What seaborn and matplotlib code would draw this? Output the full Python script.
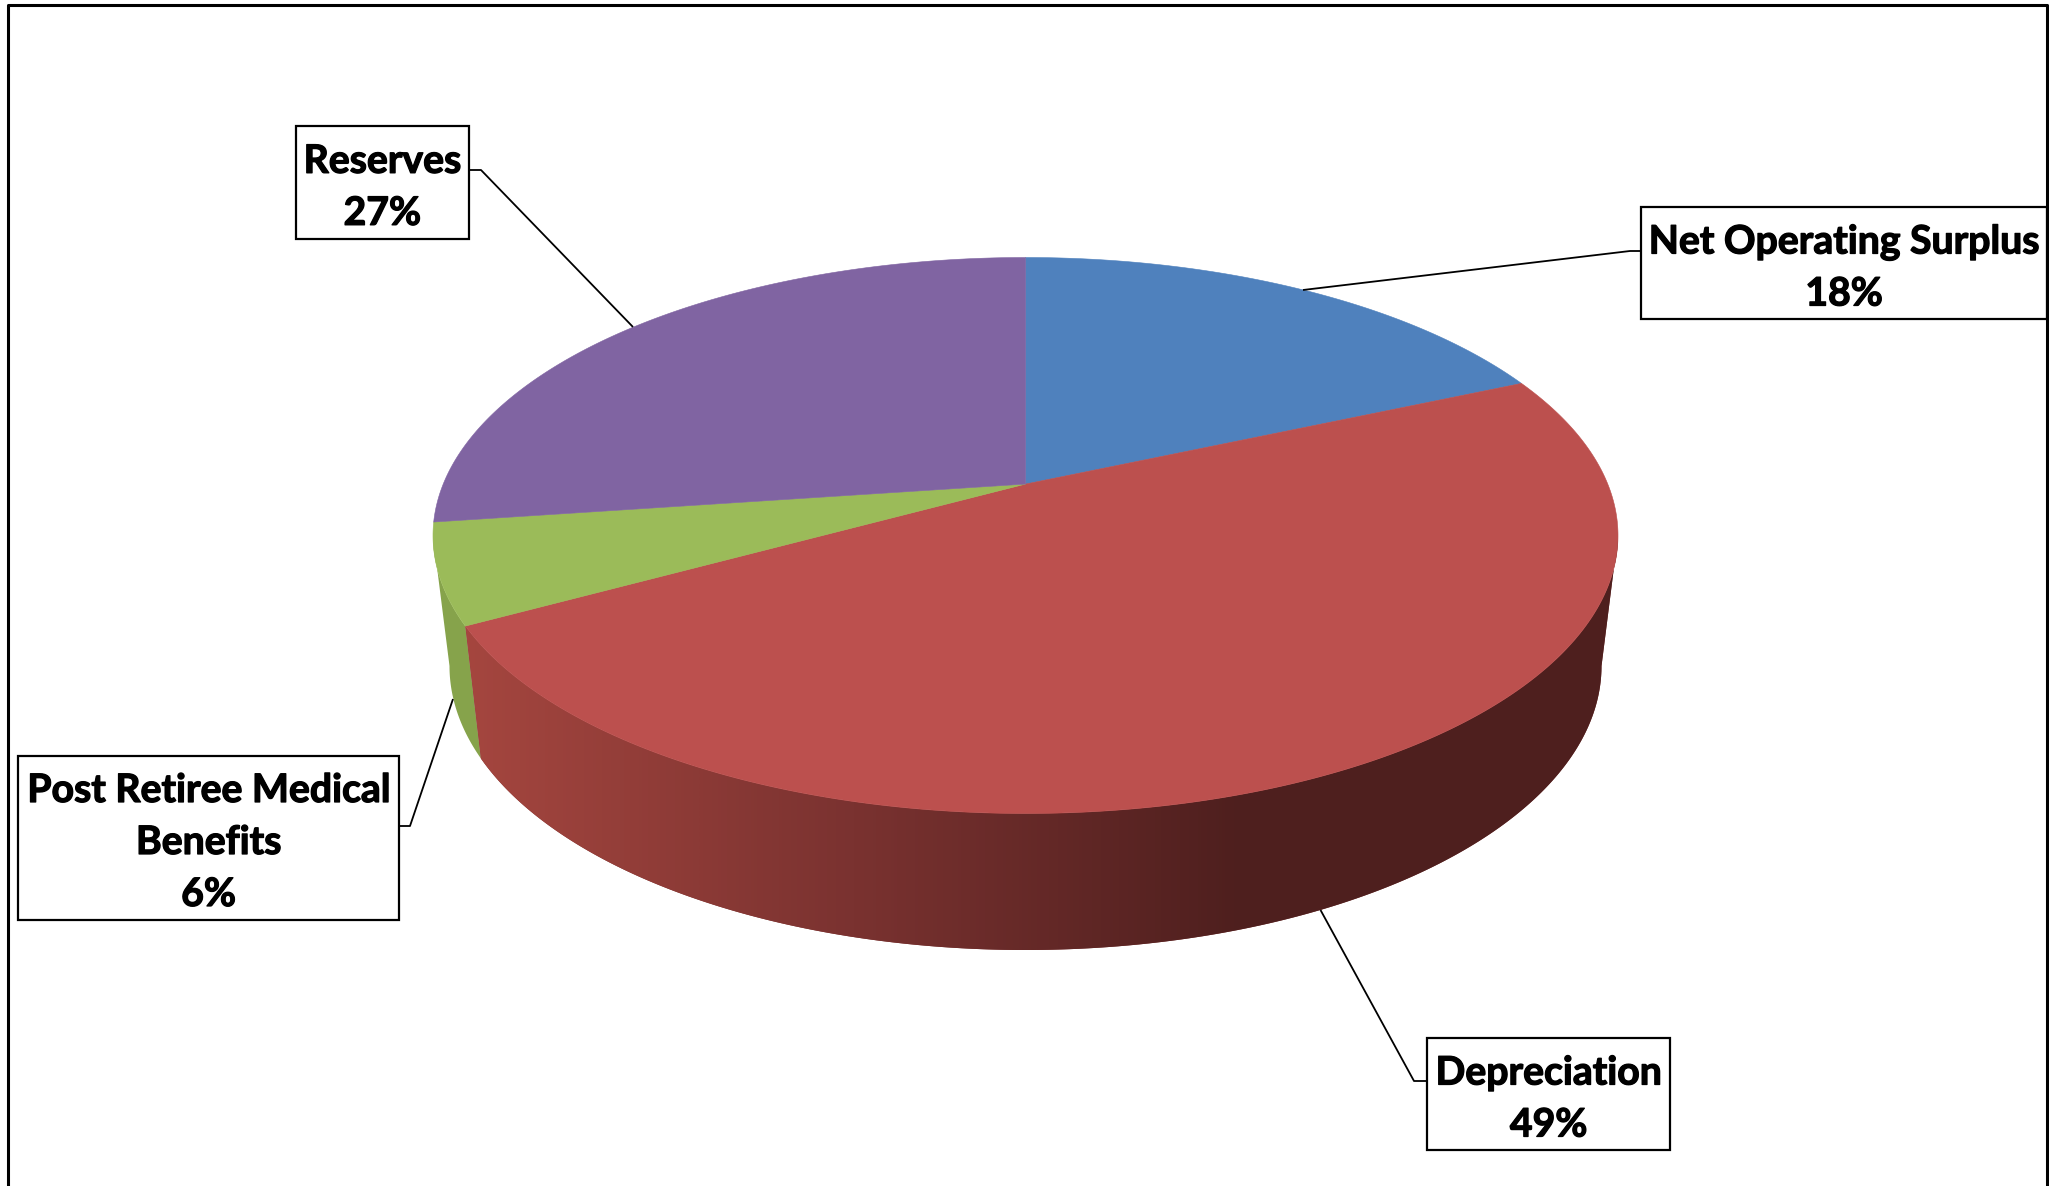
import numpy as np
import pandas as pd
import seaborn as sns
import matplotlib
matplotlib.use("Agg")
import matplotlib.pyplot as plt
import matplotlib.patheffects as pe
from matplotlib.patches import Polygon

# ---- data ----
categories = ["Net Operating Surplus", "Depreciation", "Post Retiree Medical\nBenefits", "Reserves"]
percents = [18.4, 48.6, 5.8, 27.2]      # estimated from the slice edges
labels = ["18%", "49%", "6%", "27%"]
colors = ["#4F81BD", "#BC504E", "#9BBB59", "#8064A2"]

df = pd.DataFrame({"category": categories, "percent": percents, "label": labels})

# ---- layout (pixels of the 2049x1186 picture) ----
CX, CY, A, B = 1025.5, 535.5, 592.5, 278.0      # top rim ellipse
A2, B2, CY2 = 576.0, 284.0, 666.0               # bottom rim ellipse
K = 0.185                                       # perspective shift of the apex
FONT_PT = 28.2
LINE_PX = 52
TEXT_DY = 2
boxes = {  # x0, x1, y0, y1
    categories[0]: (1641, 2047, 207, 319),
    categories[1]: (1427, 1670, 1038, 1150),
    categories[2]: (18, 399, 755.5, 919.5),
    categories[3]: (295.5, 469, 126, 238.7),
}
leaders = {
    categories[0]: [(1641, 251), (1630, 251), (1303, 290)],
    categories[1]: [(1427, 1081), (1414, 1081), (1320.5, 910)],
    categories[2]: [(399, 826), (410, 826), (453, 699)],
    categories[3]: [(469, 170), (481, 170), (633, 327)],
}

sns.set_theme(style="white")
plt.rcParams["font.family"] = ["Lato", "DejaVu Sans"]
palette = sns.color_palette(colors)
side_cmap = sns.blend_palette(["#A5463F", "#7A3230", "#4E1F1E"], as_cmap=True)


def project(theta):
    """Circle angle (deg, counter-clockwise) -> normalised ellipse coords with the apex shifted."""
    t = np.radians(theta)
    x, y = np.cos(t), np.sin(t)
    d = 1 + K * y
    return x * np.sqrt(1 - K ** 2) / d, (y + K) / d


def top_xy(nx, ny):
    return CX + A * nx, CY - B * ny


fig = plt.figure(figsize=(20.49, 11.86), dpi=100, facecolor="white")
ax = fig.add_axes([0, 0, 1, 1])
ax.set_axis_off()

# slice edges, clockwise from 12 o'clock
edges = 90 - 3.6 * np.concatenate([[0], np.cumsum(df["percent"].to_numpy())])
corner_nx, corner_ny = project(edges[2])
phi_corner = np.arctan2(corner_ny, corner_nx)  # negative, lower-left

# side wall of the red slice (gradient) and of the green slice
phi_red = np.linspace(phi_corner, 0, 300)
red_side = np.vstack([
    np.column_stack([CX + A * np.cos(phi_red), CY - B * np.sin(phi_red)]),
    np.column_stack([CX + A2 * np.cos(phi_red[::-1]), CY2 - B2 * np.sin(phi_red[::-1])]),
])
phi_green = np.linspace(-np.pi, phi_corner, 60)
green_side = np.vstack([
    np.column_stack([CX + A * np.cos(phi_green), CY - B * np.sin(phi_green)]),
    np.column_stack([CX + A2 * np.cos(phi_green[::-1]), CY2 - B2 * np.sin(phi_green[::-1])]),
])
ax.fill(green_side[:, 0], green_side[:, 1], color="#86A34B", lw=0, zorder=1)

clip = Polygon(red_side, closed=True, transform=ax.transData, fc="#7A3230", ec="none", zorder=1)
ax.add_patch(clip)
shade = np.linspace(0, 1, 256)[None, :]
im = ax.imshow(shade, cmap=side_cmap, extent=(464, 1245, 960, 520), aspect="auto", zorder=2,
               interpolation="bilinear")
im.set_clip_path(clip)
tail = ax.fill([1245, 1630, 1630, 1245], [520, 520, 960, 960], color="#4E1F1E", lw=0, zorder=2)[0]
tail.set_clip_path(clip)

# top faces
for i, row in df.iterrows():
    th = np.linspace(edges[i], edges[i + 1], 400)
    nx, ny = project(th)
    px, py = top_xy(nx, ny)
    ax_, ay_ = top_xy(0.0, K)
    ax.fill(np.r_[ax_, px], np.r_[ay_, py], color=palette[i], lw=0.4, ec=palette[i], zorder=3)

# labels
for cat, lab in zip(df["category"], df["label"]):
    x0, x1, y0, y1 = boxes[cat]
    pts = np.array(leaders[cat])
    ax.plot(pts[:, 0], pts[:, 1], color="black", lw=1.3, zorder=4, solid_capstyle="butt")
    ax.fill([x0, x1, x1, x0], [y0, y0, y1, y1], fc="white", ec="black", lw=1.6, zorder=5)
    lines = cat.split("\n") + [lab]
    yc = (y0 + y1) / 2 - (len(lines) - 1) * LINE_PX / 2 + TEXT_DY
    for j, line in enumerate(lines):
        ax.text((x0 + x1) / 2, yc + j * LINE_PX, line, ha="center", va="center_baseline",
                fontsize=FONT_PT, fontweight="bold", color="black", zorder=6,
                path_effects=[pe.withStroke(linewidth=0.9, foreground="black")])

# outer chart frame (bottom runs off the picture)
ax.plot([7.5, 7.5, 2047, 2047], [1186, 5, 5, 1186], color="black", lw=2.2, zorder=7)

ax.set_xlim(0, 2049)
ax.set_ylim(1186, 0)
fig.savefig("out.png", dpi=100, facecolor="white")
